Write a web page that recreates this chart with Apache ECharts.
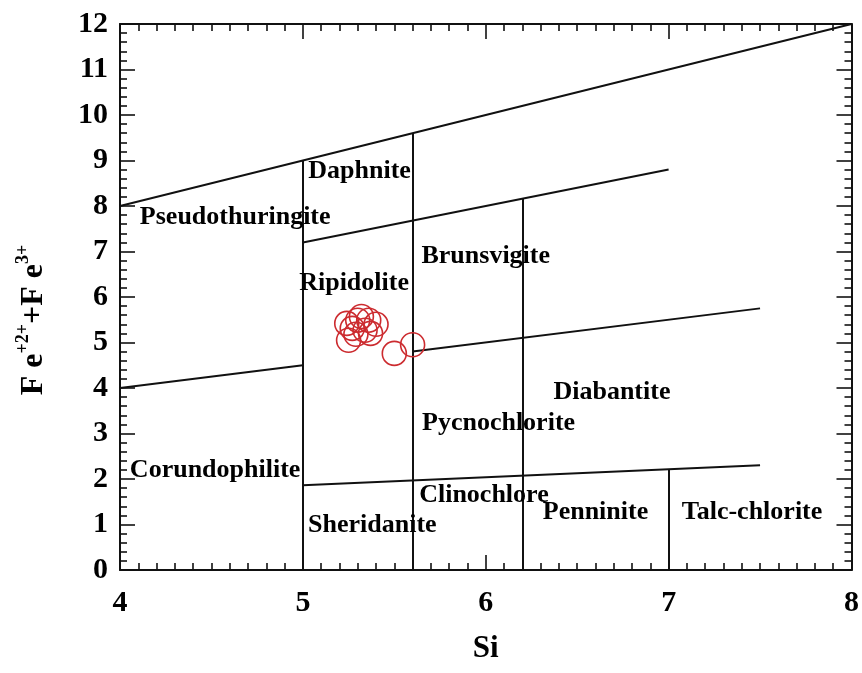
<!DOCTYPE html>
<html>
<head>
<meta charset="utf-8">
<script src="https://cdn.jsdelivr.net/npm/echarts@6/dist/echarts.min.js"></script>
<style>html,body{margin:0;padding:0;background:#fff}#c{width:862px;height:673px}</style>
</head>
<body>
<div id="c"></div>
<script>
// Sample points (Si, Fe2+ + Fe3+)
var siValues = [5.24, 5.25, 5.30, 5.32, 5.36, 5.40, 5.34, 5.29, 5.37, 5.27, 5.50, 5.60];
var feValues = [5.42, 5.05, 5.49, 5.57, 5.49, 5.40, 5.27, 5.18, 5.20, 5.31, 4.76, 4.95];

// Field boundary segments: start and end points
var boundaryStart = [[4, 8], [5, 0], [5.6, 0], [5, 7.2], [6.2, 0], [4, 4], [5.6, 4.8], [5, 1.86], [7, 0]];
var boundaryEnd   = [[8, 12], [5, 9], [5.6, 9.6], [7, 8.8], [6.2, 8.16], [5, 4.5], [7.5, 5.75], [7.5, 2.3], [7, 2.21]];

// Field names and their positions
var fieldNames = ['Daphnite', 'Pseudothuringite', 'Brunsvigite', 'Ripidolite', 'Diabantite', 'Pycnochlorite',
  'Corundophilite', 'Clinochlore', 'Sheridanite', 'Penninite', 'Talc-chlorite'];
var fieldX = [5.31, 4.63, 6.00, 5.28, 6.69, 6.07, 4.52, 5.99, 5.38, 6.60, 7.456];
var fieldY = [8.77, 7.76, 6.90, 6.31, 3.90, 3.22, 2.20, 1.65, 0.99, 1.26, 1.26];

var xTicks = [4, 5, 6, 7, 8];
var yTicks = [0, 1, 2, 3, 4, 5, 6, 7, 8, 9, 10, 11, 12];

var FONT = '"Liberation Serif", "Times New Roman", serif';

function axisCommon(showLabel, minorSplit) {
  return {
    axisLine: {show: true, onZero: false, lineStyle: {color: '#111', width: 2}},
    axisTick: {show: true, inside: true, length: 15, lineStyle: {color: '#111', width: 1.6}},
    minorTick: {show: true, splitNumber: minorSplit, length: 7, lineStyle: {color: '#111', width: 1.6}},
    splitLine: {show: false},
    minorSplitLine: {show: false},
    axisLabel: {show: showLabel, color: '#000', fontFamily: FONT, fontWeight: 'bold', fontSize: 30}
  };
}

var xMin = xTicks[0], xMax = xTicks[xTicks.length - 1];
var yMin = yTicks[0], yMax = yTicks[yTicks.length - 1];

var xBottom = Object.assign({type: 'value', position: 'bottom', min: xMin, max: xMax, interval: 1,
  name: 'Si', nameLocation: 'middle', nameGap: 63,
  nameTextStyle: {color: '#000', fontFamily: FONT, fontWeight: 'bold', fontSize: 31}}, axisCommon(true, 10));
xBottom.axisLabel.margin = 18;
var xTop = Object.assign({type: 'value', position: 'top', min: xMin, max: xMax, interval: 1}, axisCommon(false, 10));

var yLeft = Object.assign({type: 'value', position: 'left', min: yMin, max: yMax, interval: 1,
  name: '{b|F e}{s|+2+}{b|+F e}{s|3+}', nameLocation: 'middle', nameRotate: 90, nameGap: 70,
  nameTextStyle: {color: '#000', fontFamily: FONT, fontWeight: 'bold', fontSize: 32, padding: [0, 46, 0, 0],
    rich: {
      b: {fontFamily: FONT, fontWeight: 'bold', fontSize: 32, color: '#000', lineHeight: 36, verticalAlign: 'bottom'},
      s: {fontFamily: FONT, fontWeight: 'bold', fontSize: 18, color: '#000', verticalAlign: 'top'}
    }}}, axisCommon(true, 5));
yLeft.axisLabel.margin = 12;
var yRight = Object.assign({type: 'value', position: 'right', min: yMin, max: yMax, interval: 1}, axisCommon(false, 5));

var segData = boundaryStart.map(function (s, i) { return {coords: [s, boundaryEnd[i]]}; });
var pts = siValues.map(function (x, i) { return [x, feValues[i]]; });
var labels = fieldNames.map(function (n, i) { return {name: n, value: [fieldX[i], fieldY[i]]}; });

var chart = echarts.init(document.getElementById('c'), null, {renderer: 'canvas'});
chart.setOption({
  backgroundColor: '#fff',
  animation: false,
  grid: {left: 120, right: 9, top: 24, bottom: 103, containLabel: false},
  xAxis: [xBottom, xTop],
  yAxis: [yLeft, yRight],
  series: [
    {
      type: 'lines', coordinateSystem: 'cartesian2d', xAxisIndex: 0, yAxisIndex: 0,
      data: segData, silent: true,
      lineStyle: {color: '#111', width: 2, opacity: 1}
    },
    {
      type: 'scatter', xAxisIndex: 0, yAxisIndex: 0, data: labels, symbolSize: 0, silent: true,
      itemStyle: {opacity: 1},
      label: {show: true, position: 'inside', formatter: '{b}', color: '#000', opacity: 1,
        fontFamily: FONT, fontWeight: 'bold', fontSize: 26}
    },
    {
      type: 'scatter', xAxisIndex: 0, yAxisIndex: 0, data: pts, symbol: 'circle', symbolSize: 24,
      itemStyle: {color: 'rgba(0,0,0,0)', borderColor: '#cc2b2f', borderWidth: 1.6, opacity: 1}
    }
  ]
});
</script>
</body>
</html>
